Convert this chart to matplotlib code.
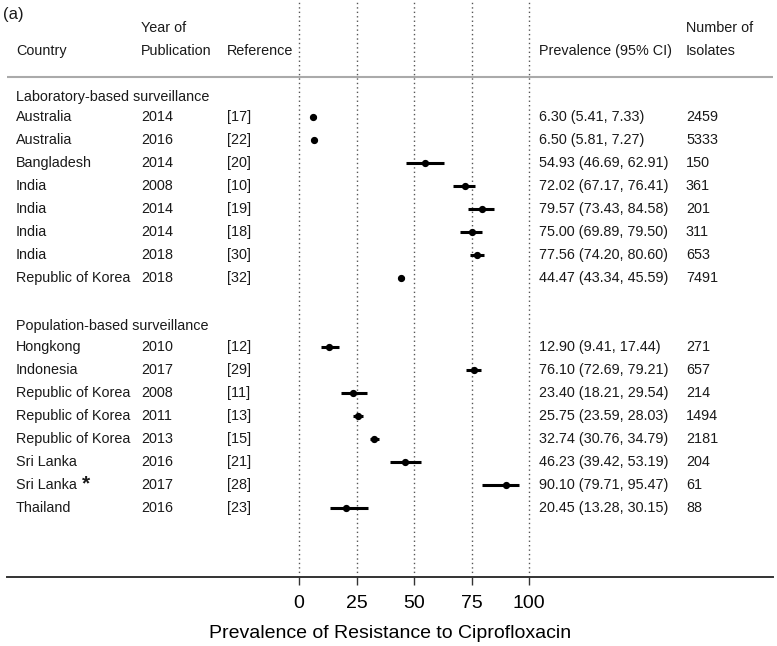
import matplotlib
matplotlib.use("Agg")
import matplotlib.pyplot as plt
from matplotlib.transforms import blended_transform_factory

plt.rcParams['font.family'] = ['Liberation Sans', 'DejaVu Sans']

# ---- data ----
lab_countries = ["Australia", "Australia", "Bangladesh", "India", "India", "India", "India", "Republic of Korea"]
lab_years = ["2014", "2016", "2014", "2008", "2014", "2014", "2018", "2018"]
lab_refs = ["[17]", "[22]", "[20]", "[10]", "[19]", "[18]", "[30]", "[32]"]
lab_est = [6.30, 6.50, 54.93, 72.02, 79.57, 75.00, 77.56, 44.47]
lab_lo = [5.41, 5.81, 46.69, 67.17, 73.43, 69.89, 74.20, 43.34]
lab_hi = [7.33, 7.27, 62.91, 76.41, 84.58, 79.50, 80.60, 45.59]
lab_n = ["2459", "5333", "150", "361", "201", "311", "653", "7491"]

pop_countries = ["Hongkong", "Indonesia", "Republic of Korea", "Republic of Korea", "Republic of Korea",
                 "Sri Lanka", "Sri Lanka", "Thailand"]
pop_years = ["2010", "2017", "2008", "2011", "2013", "2016", "2017", "2016"]
pop_refs = ["[12]", "[29]", "[11]", "[13]", "[15]", "[21]", "[28]", "[23]"]
pop_est = [12.90, 76.10, 23.40, 25.75, 32.74, 46.23, 90.10, 20.45]
pop_lo = [9.41, 72.69, 18.21, 23.59, 30.76, 39.42, 79.71, 13.28]
pop_hi = [17.44, 79.21, 29.54, 28.03, 34.79, 53.19, 95.47, 30.15]
pop_n = ["271", "657", "214", "1494", "2181", "204", "61", "88"]
pop_star = [False, False, False, False, False, False, True, False]

ticks = [0, 25, 50, 75, 100]
xlabel = "Prevalence of Resistance to Ciprofloxacin"

# ---- figure ----
W, H = 777, 646
fig = plt.figure(figsize=(W / 100, H / 100), dpi=100)
px0, px100 = 299.0, 529.0
ppu = (px100 - px0) / 100.0
ax_left, ax_right = 7.0, 773.0
ax_bottom_px = 577.0
ax = fig.add_axes([ax_left / W, (H - ax_bottom_px) / H, (ax_right - ax_left) / W, ax_bottom_px / H])
ax.set_xlim(-(px0 - ax_left) / ppu, (ax_right - px0) / ppu)
row0_px, row_h = 117.0, 23.0
ax.set_ylim((ax_bottom_px - row0_px) / row_h, -row0_px / row_h)

for s in ["top", "left", "right"]:
    ax.spines[s].set_visible(False)
ax.spines["bottom"].set_color("#333333")
ax.spines["bottom"].set_linewidth(1.4)
ax.set_yticks([])
ax.set_xticks(ticks)
ax.set_xticklabels([str(t) for t in ticks], fontsize=14)
ax.tick_params(axis="x", length=6, width=1, color="#333333", pad=7)
ax.set_xlabel(xlabel, fontsize=14, labelpad=9)

for t in ticks:
    ax.axvline(t, color="#555555", linestyle=(0, (1, 2.2)), linewidth=1.0, zorder=1)

# separator line
ax.axhline(-1.74, color="#aaaaaa", linewidth=1.5, zorder=2)

lab_rows = list(range(0, 8))
pop_rows = list(range(10, 18))

def draw(rows, est, lo, hi):
    for r, e, l, h in zip(rows, est, lo, hi):
        ax.plot([l, h], [r, r], color="black", linewidth=2.2, solid_capstyle="butt", zorder=3)
        ax.plot([e], [r], "o", color="black", markersize=4.2, zorder=4)

draw(lab_rows, lab_est, lab_lo, lab_hi)
draw(pop_rows, pop_est, pop_lo, pop_hi)

# ---- text columns ----
tr = blended_transform_factory(fig.transFigure, ax.transData)
fs = 10.4
col_country, col_year, col_ref, col_prev, col_n = 16 / W, 141 / W, 227 / W, 539 / W, 686 / W

def t(x, y, s, **kw):
    ax.text(x, y, s, transform=tr, fontsize=kw.pop("fontsize", fs), va="center", ha="left",
            color="#1a1a1a", clip_on=False, **kw)

t(col_country, -2.85, "Country")
t(col_year, -3.85, "Year of")
t(col_year, -2.85, "Publication")
t(col_ref, -2.85, "Reference")
t(col_prev, -2.85, "Prevalence (95% CI)")
t(col_n, -3.85, "Number of")
t(col_n, -2.85, "Isolates")

t(col_country, -0.88, "Laboratory-based surveillance")
t(col_country, 9.08, "Population-based surveillance")

for r, c, y, ref, e, l, h, n in zip(lab_rows, lab_countries, lab_years, lab_refs, lab_est, lab_lo, lab_hi, lab_n):
    t(col_country, r, c)
    t(col_year, r, y)
    t(col_ref, r, ref)
    t(col_prev, r, f"{e:.2f} ({l:.2f}, {h:.2f})")
    t(col_n, r, n)

for r, c, y, ref, e, l, h, n, st in zip(pop_rows, pop_countries, pop_years, pop_refs, pop_est, pop_lo, pop_hi, pop_n, pop_star):
    t(col_country, r, c)
    if st:
        t(82 / W, r - 0.05, "*", fontsize=15, fontweight="bold")
    t(col_year, r, y)
    t(col_ref, r, ref)
    t(col_prev, r, f"{e:.2f} ({l:.2f}, {h:.2f})")
    t(col_n, r, n)

fig.text(3 / W, 1 - 15 / H, "(a)", fontsize=12, va="center", ha="left", color="#1a1a1a")

fig.savefig("out.png", dpi=100)
